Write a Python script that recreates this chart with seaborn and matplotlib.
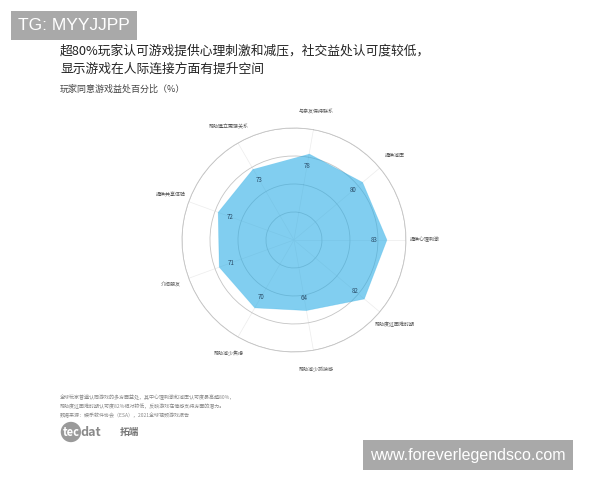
import numpy as np
import pandas as pd
import matplotlib
matplotlib.use("Agg")
import matplotlib.pyplot as plt
import seaborn as sns

sns.set_theme(style="white")
plt.rcParams["font.family"] = ["Noto Sans CJK SC", "DejaVu Sans"]

# data (clockwise from the top axis)
CATEGORIES = ["与亲友保持联系", "提供减压", "提供心理刺激", "帮助度过困难时期",
              "帮助减少孤独感", "帮助减少焦虑", "介绍朋友", "提供共享体验",
              "帮助建立更强关系"]
VALUES = [78, 80, 83, 82, 64, 70, 71, 72, 73]
RINGS = [25, 50, 75, 100]

TITLE = "超80%玩家认可游戏提供心理刺激和减压，社交益处认可度较低，\n显示游戏在人际连接方面有提升空间"
SUBTITLE = "玩家同意游戏益处百分比（%）"
NOTES = ["全球玩家普遍认同游戏的多方面益处，其中心理刺激和减压认可度最高超80%，",
         "帮助度过困难时期认可度82%相对较低，反映游戏在情感支持方面的潜力。",
         "数据来源：娱乐软件协会（ESA），2021全球视频游戏报告"]

FILL = "#2eaee6"
GRID = "#c4c4c4"

df = pd.DataFrame({"category": CATEGORIES, "value": VALUES})
n = len(df)
df["theta"] = np.arange(n) * 2 * np.pi / n
closed = pd.concat([df, df.iloc[:1]], ignore_index=True)

fig = plt.figure(figsize=(6, 4.8), dpi=100)
fig.patch.set_facecolor("white")

ax = fig.add_axes([0.3033, 0.2667, 0.3733, 0.4667], projection="polar")
ax.set_theta_offset(np.deg2rad(80))
ax.set_theta_direction(-1)
ax.set_ylim(0, 100)
ax.set_facecolor("white")

ax.set_xticks(df["theta"])
ax.set_xticklabels([])
ax.set_yticks(RINGS)
ax.set_yticklabels([])
ax.xaxis.grid(True, color="#ececec", linewidth=0.5)
ax.yaxis.grid(True, color=GRID, linewidth=0.6)
ax.spines["polar"].set_color(GRID)
ax.spines["polar"].set_linewidth(0.6)
ax.set_axisbelow(True)

ax.fill(closed["theta"], closed["value"], color=FILL, alpha=0.6, linewidth=0, zorder=2)
sns.lineplot(data=closed, x="theta", y="value", sort=False, ax=ax,
             color=FILL, alpha=0.3, linewidth=0.5, zorder=3)
ax.set_xlabel("")
ax.set_ylabel("")

for th, v, cat in zip(df["theta"], df["value"], df["category"]):
    ax.text(th, v - 11, str(v), ha="center", va="center",
            fontsize=4.5, color="#2c4f6b", zorder=4)
    ax.text(th, 117, cat, ha="center", va="center",
            fontsize=3.6, color="#555555", clip_on=False)

# titles
fig.text(0.1, 0.907, TITLE, ha="left", va="top", fontsize=9.2,
         color="#222222", linespacing=1.55)
fig.text(0.1, 0.814, SUBTITLE, ha="left", va="center", fontsize=6.5, color="#444444")

# footnote
for i, line in enumerate(NOTES):
    fig.text(0.1, 0.172 - i * 0.019, line, ha="left", va="center",
             fontsize=3.6, color="#888888")

# logo
fig.text(0.104, 0.1, "tec", ha="left", va="center", fontsize=8, color="white",
         fontweight="bold",
         bbox=dict(boxstyle="circle,pad=0.15", fc="#9a9a9a", ec="none"))
fig.text(0.134, 0.1, "dat", ha="left", va="center", fontsize=9, color="#8a8a8a",
         fontweight="bold")
fig.text(0.2, 0.1, "拓端", ha="left", va="center", fontsize=7, color="#777777",
         fontweight="bold")

# watermarks
fig.text(0.03, 0.947, "TG: MYYJJPP", ha="left", va="center", fontsize=12.5,
         color="white", family=["Liberation Sans"],
         bbox=dict(boxstyle="square,pad=0.4", fc="#a9a9a9", ec="none"))
fig.text(0.617, 0.052, "www.foreverlegendsco.com", ha="left", va="center",
         fontsize=11.5, color="white", family=["Liberation Sans"],
         bbox=dict(boxstyle="square,pad=0.45", fc="#a9a9a9", ec="none"))

fig.savefig("out.png", dpi=100)
plt.close(fig)
